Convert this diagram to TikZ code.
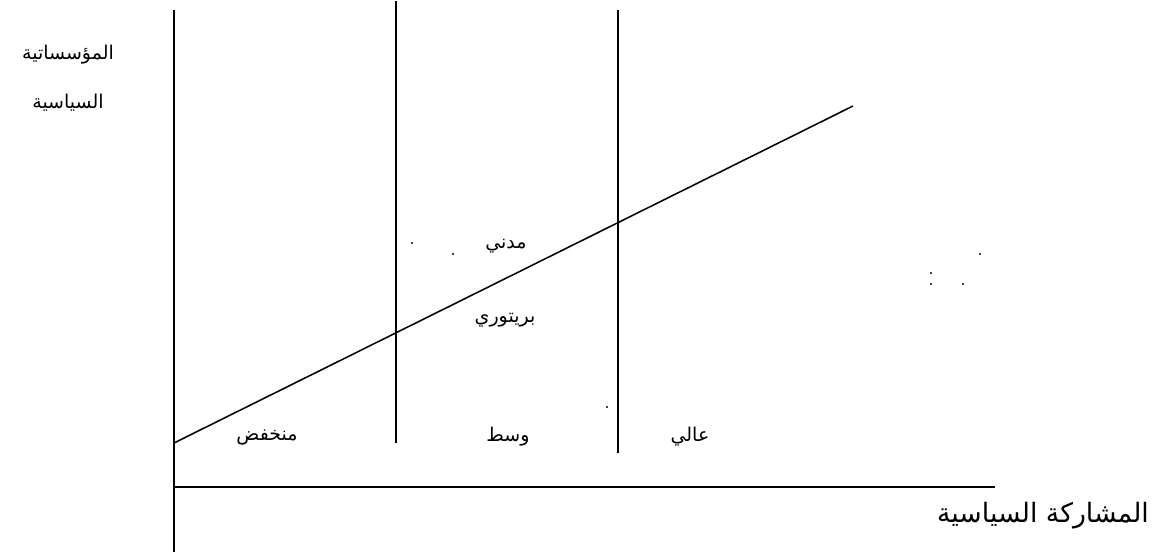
\documentclass[tikz,border=0pt]{standalone}
\usepackage{fontspec}
\TeXXeTstate=1
\newfontfamily\arabicfont[Script=Arabic]{DejaVu Sans}

\begin{document}
\begin{tikzpicture}[x=0.025cm, y=-0.025cm,
    axis/.style={line width=1.1pt},
    lbl/.style={font=\arabicfont\fontsize{13.5}{16}\selectfont, inner sep=0pt},
    biglbl/.style={font=\arabicfont\fontsize{19}{22}\selectfont, inner sep=0pt}]
  \useasboundingbox (0,0) rectangle (1166,553);

  % Axes
  \coordinate (ytop)   at (174,10);
  \coordinate (ybot)   at (174,552);
  \coordinate (xleft)  at (174,487);
  \coordinate (xright) at (995,487);

  % Dividers
  \coordinate (midtop)  at (396,1);
  \coordinate (midbot)  at (396,443);
  \coordinate (hightop) at (618,10);
  \coordinate (highbot) at (618,453);

  % Trend line
  \coordinate (tstart) at (174,443);
  \coordinate (tend)   at (853,106);

  % Labels
  \node[lbl] (inst)  at (68,55)   {\beginR المؤسساتية\endR};
  \node[lbl] (pol)   at (68,103)  {\beginR السياسية\endR};
  \node[lbl] (civil) at (506,246) {\beginR مدني\endR};
  \node[lbl] (praet) at (505,320) {\beginR بريتوري\endR};
  \node[lbl] (low)   at (267,437) {\beginR منخفض\endR};
  \node[lbl] (mid)   at (508,437) {\beginR وسط\endR};
  \node[lbl] (high)  at (690,437) {\beginR عالي\endR};
  \node[biglbl] (part) at (1043,516) {\beginR المشاركة السياسية\endR};

  \draw[axis] (ytop) -- (ybot);
  \draw[axis] (xleft) -- (xright);
  \draw[axis] (midtop) -- (midbot);
  \draw[axis] (hightop) -- (highbot);
  \draw[axis] (tstart) -- (tend);

  % stray dots
  \foreach \dx/\dy in {412/243, 453/254, 980/254, 931/273, 931/284, 963/284, 607/407}
    \fill (\dx,\dy) circle (0.8pt);
\end{tikzpicture}
\end{document}
